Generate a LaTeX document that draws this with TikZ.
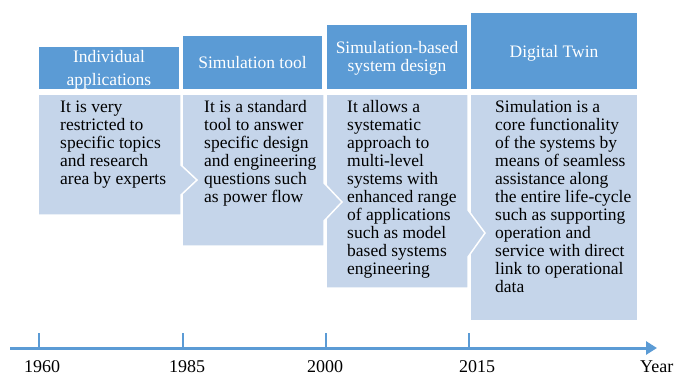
\documentclass[tikz,border=0pt]{standalone}
\usepackage{fontspec}
\setmainfont{Liberation Serif}
\usetikzlibrary{arrows.meta}
\definecolor{hdrblue}{HTML}{5B9BD5}
\definecolor{bodyblue}{HTML}{C5D5EA}
\begin{document}
\begin{tikzpicture}[x=1bp,y=-1bp,
  hdr/.style={fill=hdrblue,draw=white,line width=1.2bp},
  bdy/.style={fill=bodyblue,draw=white,line width=1.5bp,line join=miter},
  htext/.style={text=white,align=center,inner sep=0pt,anchor=north,font=\fontsize{17.5bp}{18bp}\selectfont},
  btext/.style={text=black,align=left,inner sep=0pt,anchor=north west,font=\fontsize{17.5bp}{18bp}\selectfont},
  axisline/.style={draw=hdrblue,line width=3bp},
  tickline/.style={draw=hdrblue,line width=2.5bp},
  yeartext/.style={anchor=base,inner sep=0pt,font=\fontsize{18bp}{20bp}\selectfont}]
\useasboundingbox[fill=white] (0,0) rectangle (676,374);

% headers
\path[hdr] (38,46) rectangle (180,90);
\path[hdr] (182,35) rectangle (323,90);
\path[hdr] (326,24) rectangle (468,90);
\path[hdr] (470,12) rectangle (638,90);

% bodies (drawn last-to-first so chevrons overlap the next box)
\path[bdy] (470,94) rectangle (638,321);
\path[bdy] (326,94) -- (468,94) -- (468,210) -- (485,233) -- (468,257) -- (468,288) -- (326,288) -- cycle;
\path[bdy] (182,94) -- (324,94) -- (324,183) -- (342,202) -- (324,221) -- (324,246) -- (182,246) -- cycle;
\path[bdy] (38,94) -- (181,94) -- (181,165) -- (197,180) -- (181,195) -- (181,215) -- (38,215) -- cycle;

% header texts
\node[htext] (h1) at (109,49.4) {\strut Individual\\[5bp]applications};
\node[htext] (h2) at (252.5,55.4) {\strut Simulation tool};
\node[htext] (h3) at (397,40.7) {\strut Simulation-based\\system design};
\node[htext] (h4) at (554,44.7) {\strut Digital Twin};

% body texts
\node[btext] (b1) at (60,99.4) {\strut It is very\\restricted to\\specific topics\\and research\\area by experts};
\node[btext] (b2) at (204,99.4) {\strut It is a standard\\tool to answer\\specific design\\and engineering\\questions such\\as power flow};
\node[btext] (b3) at (347,99.4) {\strut It allows a\\systematic\\approach to\\multi-level\\systems with\\enhanced range\\of applications\\such as model\\based systems\\engineering};
\node[btext] (b4) at (495,99.4) {\strut Simulation is a\\core functionality\\of the systems by\\means of seamless\\assistance along\\the entire life-cycle\\such as supporting\\operation and\\service with direct\\link to operational\\data};

% time axis
\coordinate (axs) at (10,348);
\coordinate (axe) at (657,348);
\draw[axisline,-{Triangle[length=11bp,width=13bp]}] (axs) -- (axe);
\foreach \n/\x in {1/39,2/183,3/326,4/469}{
  \coordinate (tt\n) at (\x,333);
  \coordinate (tb\n) at (\x,348);
  \draw[tickline] (tt\n) -- (tb\n);
}
\node[yeartext] (y1) at (42,372) {1960};
\node[yeartext] (y2) at (187,372) {1985};
\node[yeartext] (y3) at (325,372) {2000};
\node[yeartext] (y4) at (477,372) {2015};
\node[yeartext,anchor=base west] (yr) at (640,372) {Year};
\end{tikzpicture}
\end{document}
